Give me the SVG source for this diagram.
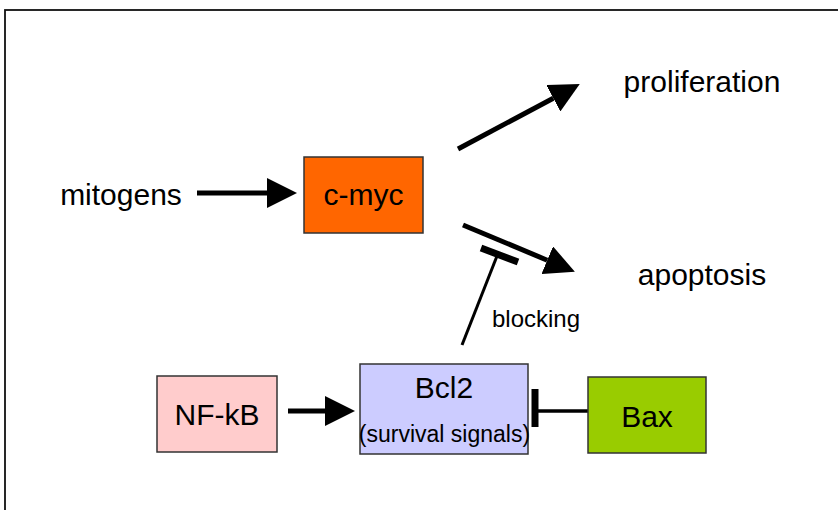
<svg xmlns="http://www.w3.org/2000/svg" width="838" height="510" viewBox="0 0 838 510">
<style>
  text { font-family: "Liberation Sans", Arial, Helvetica, sans-serif; fill: #000; text-anchor: middle; }
  .lbl { font-size: 30px; }
  .small { font-size: 23px; }
  .blk { font-size: 24px; }
  .box { stroke: #333; stroke-width: 1.5; }
  .act { stroke: #000; stroke-width: 5; fill: none; marker-end: url(#head); }
  .inh { stroke: #000; fill: none; }
  .bar { stroke: #000; stroke-width: 7; fill: none; }
</style>
<defs>
  <marker id="head" markerUnits="userSpaceOnUse" markerWidth="30" markerHeight="30" viewBox="0 -14 28 28" refX="0" refY="0" orient="auto">
    <polygon points="0,-14 28,0 0,14" fill="#000"/>
  </marker>
</defs>
<rect x="5" y="10" width="850" height="520" fill="#fff" stroke="#111" stroke-width="1.8"/>

<g id="connectors">
  <line class="act" x1="197" y1="193" x2="267" y2="193"/>
  <line class="act" x1="458" y1="149" x2="553.3" y2="98.2"/>
  <line class="act" x1="463" y1="225" x2="547.2" y2="260.2" stroke-width="6"/>
  <line class="act" x1="288" y1="411" x2="325" y2="411"/>
  <line class="inh" x1="462" y1="345" x2="497" y2="256" stroke-width="3"/>
  <line class="bar" x1="481" y1="248" x2="518" y2="262"/>
  <line class="inh" x1="588" y1="411" x2="537" y2="411" stroke-width="3.5"/>
  <line class="bar" x1="535" y1="389" x2="535" y2="427"/>
</g>

<g id="mitogens"><text class="lbl" x="121" y="205">mitogens</text></g>
<g id="proliferation"><text class="lbl" x="702" y="92">proliferation</text></g>
<g id="apoptosis"><text class="lbl" x="702" y="285">apoptosis</text></g>
<g id="blocking"><text class="blk" x="536" y="327">blocking</text></g>

<g id="cmyc">
  <rect class="box" x="304" y="157" width="119" height="76" fill="#FF6600"/>
  <text class="lbl" x="363.5" y="205">c-myc</text>
</g>
<g id="nfkb">
  <rect class="box" x="157" y="376" width="120" height="76" fill="#FFCCCC"/>
  <text class="lbl" x="217" y="425">NF-kB</text>
</g>
<g id="bcl2">
  <rect class="box" x="360" y="364" width="168" height="90" fill="#CCCCFF"/>
  <text class="lbl" x="444" y="398">Bcl2</text>
  <text class="small" x="444.5" y="442">(survival signals)</text>
</g>
<g id="bax">
  <rect class="box" x="588" y="377" width="118" height="76" fill="#99CC00"/>
  <text class="lbl" x="647" y="427">Bax</text>
</g>
</svg>
